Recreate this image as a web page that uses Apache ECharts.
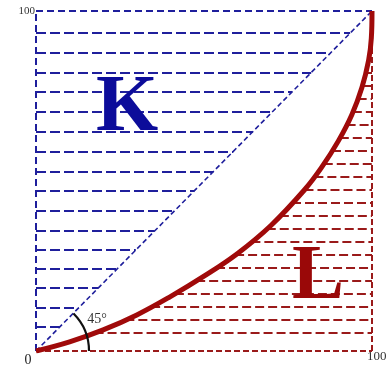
<!DOCTYPE html>
<html>
<head>
<meta charset="utf-8">
<script src="https://cdn.jsdelivr.net/npm/echarts@6/dist/echarts.min.js"></script>
<style>
html, body { margin: 0; padding: 0; background: #fff; }
#chart { width: 387px; height: 367px; }
</style>
</head>
<body>
<div id="chart"></div>
<script>
// Lorenz curve (x = % population, y = % income)
const curveX = [0, 10, 20, 30, 40, 50, 60, 70, 80, 85, 90, 94, 97, 99, 99.8, 100]
const curveY = [0, 2.7, 6.2, 10.6, 16, 22, 28.7, 37, 47.5, 54, 61.8, 69.5, 77.5, 85.5, 92, 100]
// hatching levels
const kLevels = [7.1, 12.6, 18.5, 24.1, 29.7, 35.3, 41.2, 47.1, 52.8, 58.7, 64.6, 70.3, 76.2, 81.9, 87.6, 93.5]
const lLevels = [5.3, 9.1, 12.9, 16.8, 20.6, 24.4, 28.2, 32.1, 35.9, 39.7, 43.5, 47.4, 51.2, 55, 58.8, 62.6, 66.5, 70.3, 74.1, 77.9, 81.8, 85.6, 89.4]
const axisMin = 0
const axisMax = 100

const blue = '#1f1f9c'
const red = '#9a1a1a'

// x on the curve for a given y (linear between read points)
function curveXAt (y) {
  for (let i = 1; i < curveY.length; i++) {
    if (y <= curveY[i]) {
      const t = (y - curveY[i - 1]) / (curveY[i] - curveY[i - 1])
      return curveX[i - 1] + t * (curveX[i] - curveX[i - 1])
    }
  }
  return axisMax
}

const chart = echarts.init(document.getElementById('chart'))
chart.setOption({
  animation: false,
  grid: { left: 36, right: 15, top: 11, bottom: 16 },
  xAxis: { type: 'value', min: axisMin, max: axisMax, show: false },
  yAxis: { type: 'value', min: axisMin, max: axisMax, show: false },
  series: [
    {
      // K area hatching
      type: 'lines',
      coordinateSystem: 'cartesian2d',
      lineStyle: { color: blue, width: 2, type: [10, 4], opacity: 1 },
      data: kLevels.map(y => ({ coords: [[axisMin, y], [y, y]] }))
    },
    {
      // L area hatching
      type: 'lines',
      coordinateSystem: 'cartesian2d',
      lineStyle: { color: red, width: 2, type: [9, 4], opacity: 1 },
      data: lLevels.map(y => ({ coords: [[curveXAt(y), y], [axisMax, y]] }))
    },
    {
      // left + top border
      type: 'lines',
      coordinateSystem: 'cartesian2d',
      lineStyle: { color: blue, width: 2, type: [7, 4], opacity: 1 },
      data: [
        { coords: [[axisMin, axisMin], [axisMin, axisMax]] },
        { coords: [[axisMin, axisMax], [axisMax, axisMax]] }
      ]
    },
    {
      // right + bottom border
      type: 'lines',
      coordinateSystem: 'cartesian2d',
      lineStyle: { color: red, width: 2, type: [6, 3], opacity: 1 },
      data: [
        { coords: [[axisMax, axisMin], [axisMax, axisMax]] },
        { coords: [[axisMin, axisMin], [axisMax, axisMin]] }
      ]
    },
    {
      // line of equality
      type: 'line',
      data: [[axisMin, axisMin], [axisMax, axisMax]],
      symbol: 'none',
      lineStyle: { color: blue, width: 1.6, type: [5, 3] },
      z: 3
    },
    {
      // Lorenz curve
      type: 'line',
      data: curveX.map((x, i) => [x, curveY[i]]),
      smooth: 0.4,
      symbol: 'none',
      lineStyle: { color: '#a00a0a', width: 5 },
      z: 5
    }
  ]
})

const o = chart.convertToPixel('grid', [axisMin, axisMin])
chart.setOption({
  graphic: [
    { type: 'arc', shape: { cx: o[0], cy: o[1], r: 53, startAngle: -Math.PI / 4, endAngle: 0 },
      style: { stroke: '#111', lineWidth: 2.2, fill: null }, z: 10 },
    { type: 'text', x: 97, y: 319, style: { text: '45°', font: '14px "Liberation Serif"', fill: '#333', align: 'center', verticalAlign: 'middle' }, z: 10 },
    { type: 'text', x: 127, y: 109, style: { text: 'K', font: 'bold 80px "Liberation Serif"', fill: '#0c0c9a', align: 'center', verticalAlign: 'middle' }, z: 10 },
    { type: 'text', x: 318, y: 278, style: { text: 'L', font: 'bold 78px "Liberation Serif"', fill: '#9a0808', align: 'center', verticalAlign: 'middle' }, z: 10 },
    { type: 'text', x: 35, y: 11, style: { text: '100', font: '11px "Liberation Serif"', fill: '#333', align: 'right', verticalAlign: 'middle' }, z: 10 },
    { type: 'text', x: 28, y: 360, style: { text: '0', font: '14px "Liberation Serif"', fill: '#222', align: 'center', verticalAlign: 'middle' }, z: 10 },
    { type: 'text', x: 367, y: 357, style: { text: '100', font: '13px "Liberation Serif"', fill: '#333', align: 'left', verticalAlign: 'middle' }, z: 10 }
  ]
})
</script>
</body>
</html>
